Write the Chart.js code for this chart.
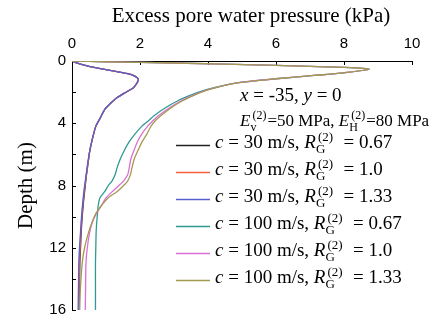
<!DOCTYPE html>
<html>
<head>
<meta charset="utf-8">
<script src="https://cdn.jsdelivr.net/npm/chart.js@4.4.1/dist/chart.umd.min.js"></script>
<style>
  html, body { margin: 0; padding: 0; background: #fff; }
  canvas { display: block; }
</style>
</head>
<body>
<canvas id="pressure" width="440" height="325"></canvas>
<script>
// depth (m) of each sample, one list per wave speed
const depth30 = [0, 0.2, 0.36, 0.55, 0.68, 0.8, 0.92, 1.1, 1.25, 1.45, 1.73, 2.05, 2.36, 2.75, 3.1, 3.7, 4.2, 5.0, 5.8, 6.6, 7.4, 8.2, 9.0, 10.0, 11.0, 12.0, 13.0, 14.5, 16]
const depth100 = [0, 0.05, 0.13, 0.28, 0.41, 0.53, 0.78, 0.93, 1.14, 1.41, 1.84, 2.15, 2.57, 3.0, 3.5, 3.84, 4.2, 4.7, 5.2, 5.7, 6.3, 6.9, 7.3, 7.7, 8.0, 8.4, 8.8, 9.3, 9.8, 10.3, 11.0, 12.0, 13.0, 14.5, 16]

// excess pore water pressure (kPa)
const c30Rg067 = [0, 0.25, 0.53, 1.0, 1.32, 1.6, 1.8, 1.93, 1.95, 1.9, 1.8, 1.55, 1.32, 1.12, 0.97, 0.82, 0.7, 0.6, 0.52, 0.47, 0.42, 0.38, 0.34, 0.3, 0.27, 0.25, 0.23, 0.22, 0.22]
const c30Rg100 = [0, 0.25, 0.53, 1.0, 1.32, 1.6, 1.8, 1.93, 1.95, 1.9, 1.8, 1.55, 1.32, 1.12, 0.97, 0.82, 0.7, 0.6, 0.52, 0.47, 0.42, 0.37, 0.33, 0.29, 0.26, 0.24, 0.22, 0.21, 0.21]
const c30Rg133 = [0, 0.25, 0.53, 1.0, 1.32, 1.6, 1.8, 1.93, 1.95, 1.9, 1.8, 1.55, 1.32, 1.12, 0.97, 0.82, 0.7, 0.6, 0.52, 0.46, 0.41, 0.36, 0.32, 0.28, 0.25, 0.22, 0.2, 0.19, 0.18]
const c100Rg067 = [0, 1.0, 3.0, 6.0, 8.0, 8.74, 7.9, 7.12, 6.0, 4.85, 3.95, 3.55, 3.1, 2.75, 2.42, 2.25, 2.05, 1.85, 1.68, 1.55, 1.42, 1.32, 1.27, 1.18, 1.07, 0.96, 0.82, 0.77, 0.75, 0.73, 0.71, 0.7, 0.69, 0.69, 0.69]
const c100Rg100 = [0, 1.0, 3.0, 6.0, 8.0, 8.74, 7.9, 7.12, 6.0, 4.85, 4.0, 3.62, 3.2, 2.87, 2.55, 2.38, 2.22, 2.05, 1.92, 1.83, 1.73, 1.68, 1.64, 1.52, 1.38, 1.18, 1.0, 0.86, 0.72, 0.61, 0.52, 0.45, 0.41, 0.4, 0.39]
const c100Rg133 = [0, 1.0, 3.0, 6.0, 8.0, 8.74, 7.9, 7.12, 6.0, 4.85, 4.02, 3.65, 3.24, 2.92, 2.62, 2.45, 2.32, 2.2, 2.06, 1.95, 1.83, 1.76, 1.72, 1.64, 1.52, 1.32, 1.06, 0.86, 0.7, 0.6, 0.49, 0.37, 0.3, 0.25, 0.22]

const speeds = [30, 30, 30, 100, 100, 100]
const ratios = ['0.67', '1.0', '1.33', '0.67', '1.0', '1.33']
const xTicks = [0, 2, 4, 6, 8, 10]
const yTicks = [0, 2, 4, 6, 8, 10, 12, 14, 16]
const yLabelled = [0, 4, 8, 12, 16]

const series = [c30Rg067, c30Rg100, c30Rg133, c100Rg067, c100Rg100, c100Rg133]
const colors = ['#222222', '#f4603c', '#5a5fd0', '#2f9a92', '#dc6fd2', '#a39a52']

const serif = '"Liberation Serif", "Times New Roman", serif'
const sans = '"Liberation Sans", Arial, sans-serif'

// text with italic pieces and stacked sub/superscripts
function drawRich(ctx, parts, x, y, size, small) {
  parts.forEach(p => {
    if (typeof p === 'string') {
      ctx.font = `${size}px ${serif}`
      ctx.fillText(p, x, y)
      x += ctx.measureText(p).width
    } else if (p.i) {
      ctx.font = `italic ${size}px ${serif}`
      ctx.fillText(p.i, x, y)
      x += ctx.measureText(p.i).width
    } else {
      ctx.font = `${small}px ${serif}`
      ctx.fillText(p.sub, x, y + 5)
      ctx.fillText(p.sup, x + 2, y - 7)
      x += Math.max(ctx.measureText(p.sub).width, ctx.measureText(p.sup).width + 2) + 1
    }
  })
}

const innerTicks = {
  id: 'innerTicks',
  beforeDatasetsDraw(chart) {
    const {ctx, chartArea, scales: {x, y}} = chart
    ctx.save()
    ctx.strokeStyle = '#000'
    ctx.lineWidth = 1
    ctx.beginPath()
    x.ticks.forEach(t => {
      const px = Math.round(x.getPixelForValue(t.value)) + 0.5
      ctx.moveTo(px, chartArea.top)
      ctx.lineTo(px, chartArea.top + 4)
    })
    y.ticks.forEach(t => {
      const py = Math.round(y.getPixelForValue(t.value)) + 0.5
      ctx.moveTo(chartArea.left, py)
      ctx.lineTo(chartArea.left + 4, py)
    })
    ctx.stroke()
    ctx.restore()
  }
}

const labels = {
  id: 'labels',
  afterDraw(chart) {
    const {ctx, chartArea} = chart
    ctx.save()
    ctx.fillStyle = '#000'
    ctx.textBaseline = 'alphabetic'

    // axis titles
    ctx.font = `21px ${serif}`
    ctx.textAlign = 'center'
    ctx.fillText('Excess pore water pressure (kPa)', 251, 22)
    ctx.save()
    ctx.translate(32, (chartArea.top + chartArea.bottom) / 2)
    ctx.rotate(-Math.PI / 2)
    ctx.fillText('Depth (m)', 0, 0)
    ctx.restore()

    ctx.textAlign = 'left'
    drawRich(ctx, [{i: 'x'}, ' = -35, ', {i: 'y'}, ' = 0'], 240, 101, 19, 13)
    drawRich(ctx, [{i: 'E'}, {sub: 'v', sup: '(2)'}, '=50 MPa, ', {i: 'E'}, {sub: 'H', sup: '(2)'}, '=80 MPa'], 240, 126, 17, 12)

    // legend
    chart.data.datasets.forEach((ds, i) => {
      const ly = 145 + i * 27
      ctx.strokeStyle = ds.borderColor
      ctx.lineWidth = 1.6
      ctx.beginPath()
      ctx.moveTo(176, ly + 0.5)
      ctx.lineTo(210, ly + 0.5)
      ctx.stroke()
      drawRich(ctx, [{i: 'c'}, ` = ${speeds[i]} m/s, `, {i: 'R'}, {sub: 'G', sup: '(2)'}, `  = ${ratios[i]}`], 215, ly + 3, 19, 13)
    })
    ctx.restore()
  }
}

const datasets = series.map((values, i) => {
  const depths = speeds[i] === 30 ? depth30 : depth100
  return {
    label: `c = ${speeds[i]} m/s, RG(2) = ${ratios[i]}`,
    data: values.map((v, k) => ({x: v, y: depths[k]})),
    showLine: true,
    borderColor: colors[i],
    backgroundColor: colors[i],
    borderWidth: 1.3,
    pointRadius: 0,
    tension: 0.2,
    // later series are painted over earlier ones
    order: series.length - i
  }
})

new Chart(document.getElementById('pressure').getContext('2d'), {
  type: 'scatter',
  data: { datasets },
  options: {
    responsive: false,
    devicePixelRatio: 1,
    animation: false,
    layout: { padding: { left: 0, top: 0, right: 28, bottom: 11 } },
    plugins: { legend: { display: false }, tooltip: { enabled: false } },
    scales: {
      x: {
        type: 'linear',
        position: 'top',
        min: 0,
        max: 10,
        afterFit: scale => { scale.height = 61 },
        afterBuildTicks: scale => { scale.ticks = xTicks.map(value => ({value})) },
        ticks: { color: '#000', padding: 8, font: { family: sans, size: 15 } },
        grid: { display: false, drawTicks: false },
        border: { color: '#000', width: 1 }
      },
      y: {
        type: 'linear',
        reverse: true,
        min: 0,
        max: 16,
        afterFit: scale => { scale.width = 72 },
        afterBuildTicks: scale => { scale.ticks = yTicks.map(value => ({value})) },
        ticks: {
          color: '#000',
          padding: 6,
          font: { family: sans, size: 15 },
          callback: v => yLabelled.includes(v) ? String(v) : ''
        },
        grid: { display: false, drawTicks: false },
        border: { color: '#000', width: 1 }
      }
    }
  },
  plugins: [innerTicks, labels]
})
</script>
</body>
</html>
